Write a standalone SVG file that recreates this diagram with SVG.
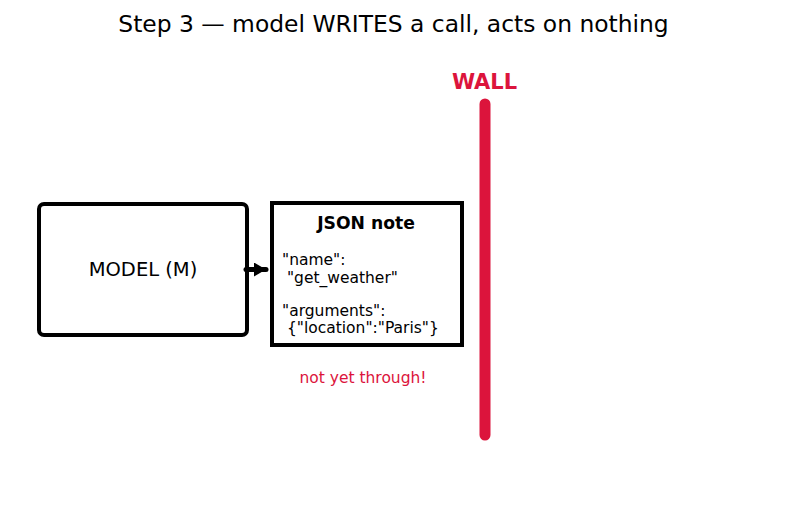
<svg xmlns="http://www.w3.org/2000/svg" width="787" height="510" viewBox="0 0 787 510">
<style>
text{font-family:"DejaVu Sans","Liberation Sans",sans-serif;fill:#000}
.box{fill:#fff;stroke:#000;stroke-width:4}
.code{font-size:15.5px}
.red{fill:#dc143c}
</style>
<defs>
<marker id="ah" viewBox="0 0 12 14" refX="12" refY="7" markerWidth="12" markerHeight="14" markerUnits="userSpaceOnUse" orient="auto"><path d="M0,0 L12,7 L0,14 z" fill="#000"/></marker>
</defs>
<rect width="787" height="510" fill="#fff"/>
<text x="393.5" y="32" font-size="23.4" text-anchor="middle">Step 3 — model WRITES a call, acts on nothing</text>
<g id="model">
<rect class="box" x="39" y="204" width="208" height="131" rx="5"/>
<text x="143" y="276" font-size="19.5" text-anchor="middle">MODEL (M)</text>
</g>
<g id="json">
<rect class="box" x="272" y="203" width="190" height="142"/>
<text x="366" y="229" font-size="17.2" font-weight="bold" text-anchor="middle">JSON note</text>
<text class="code" x="282" y="265">"name":</text>
<text class="code" x="282" y="283" xml:space="preserve"> "get_weather"</text>
<text class="code" x="282" y="316">"arguments":</text>
<text class="code" x="282" y="333" xml:space="preserve"> {"location":"Paris"}</text>
<text class="code red" x="363" y="383" text-anchor="middle">not yet through!</text>
</g>
<g id="wall">
<text class="red" x="484.5" y="89" font-size="21" font-weight="bold" text-anchor="middle">WALL</text>
<line x1="485" y1="104" x2="485" y2="435" stroke="#dc143c" stroke-width="11" stroke-linecap="round"/>
</g>
<g id="connectors">
<line x1="246" y1="269.5" x2="266" y2="269.5" stroke="#000" stroke-width="5" stroke-linecap="round" marker-end="url(#ah)"/>
</g>
</svg>
